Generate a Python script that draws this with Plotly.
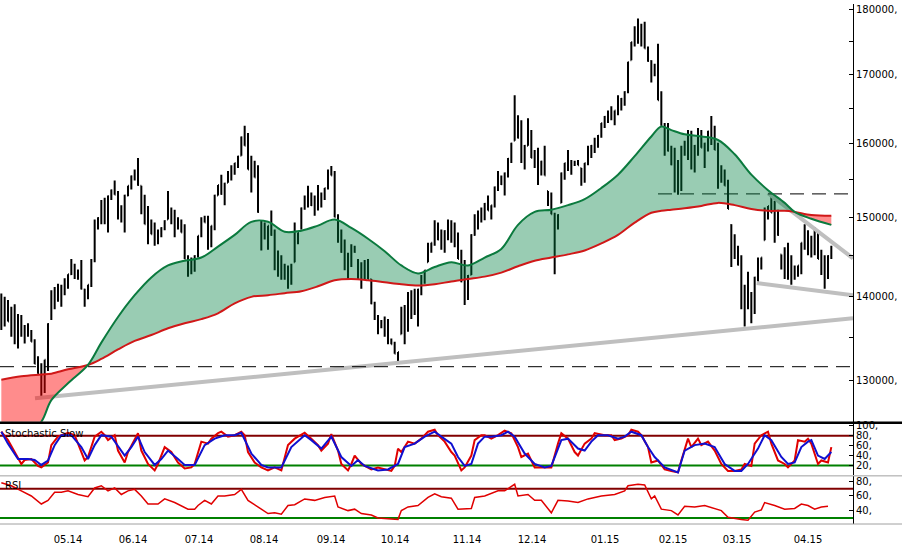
import plotly.graph_objects as go
import numpy as np

# ---------------- price data (thousands of points), one bar per trading day ----------------
open_k = [139.5, 138.1, 138.2, 136.9, 136.6, 135.8, 136.4, 135.4, 135.9, 135.2, 134.5, 131.9, 130.8, 130.5, 132.4, 137.2, 139.8, 140.4, 140.0, 141.2, 141.8, 142.7, 143.0, 142.7, 142.6, 140.8, 140.5, 141.4, 144.5, 149.2, 149.9, 150.8, 150.4, 152.8, 153.6, 153.0, 150.5, 150.5, 152.9, 154.2, 155.5, 156.1, 154.2, 151.0, 149.1,
          148.7, 147.8, 147.4, 148.0, 148.6, 149.7, 150.2, 149.2, 149.2, 148.9, 148.0, 144.6, 143.8, 144.0, 145.0, 147.6, 149.8, 149.3, 147.5, 148.9, 152.9, 154.3, 153.1, 154.6, 156.0, 156.5, 157.3, 158.3, 160.9, 159.7, 156.4, 156.4, 155.3, 149.5, 148.2, 147.4, 148.9, 147.7, 144.0, 143.5, 143.0, 142.4, 142.7, 144.2, 147.2,
          148.5, 151.2, 152.7, 152.4, 151.6, 152.6, 152.3, 153.1, 153.9, 156.2, 155.6, 150.0, 146.9, 145.5, 143.8, 145.0, 145.9, 144.5, 142.5, 143.3, 143.3, 142.1, 139.1, 137.2, 136.6, 136.3, 135.7, 134.5, 134.2, 133.1, 135.4, 136.5, 138.1, 139.0, 139.3, 138.6, 140.8, 142.4, 144.2, 146.1, 146.7, 148.2, 147.1, 146.9, 148.2,
          148.2, 147.7, 146.3, 144.6, 141.8, 141.1, 142.6, 147.7, 149.6, 150.3, 150.7, 151.8, 150.9, 151.6, 154.0, 154.9, 154.4, 155.9, 157.9, 160.4, 162.4, 160.8, 158.1, 159.7, 159.9, 158.0, 156.9, 156.6, 157.5, 153.5, 151.8, 150.4, 149.4, 151.9, 155.9, 157.3, 156.7, 157.2, 157.4, 156.6, 156.0, 157.3, 158.9, 159.7, 160.3,
          161.1, 162.9, 163.8, 164.3, 163.7, 164.7, 165.6, 166.4, 167.4, 172.1, 174.9, 176.5, 175.9, 175.9, 173.9, 172.0, 170.6, 170.4, 166.2, 162.5, 160.9, 159.0, 157.1, 155.4, 156.6, 159.3, 159.8, 159.1, 157.9, 159.7, 160.6, 159.4, 160.0, 161.7, 160.8, 159.1, 155.8, 155.3, 154.2, 149.0, 146.2, 145.1, 143.9, 138.9, 140.7,
          138.6, 140.1, 142.3, 144.1, 147.0, 150.6, 151.5, 150.6, 149.3, 145.2, 144.1, 144.4, 143.2, 142.9, 143.1, 143.8, 146.7, 146.7, 146.2, 146.9, 146.3, 144.6, 143.0, 143.6, 145.0]
high_k = [140.3, 139.9, 139.5, 138.7, 139.0, 137.8, 137.7, 136.5, 136.7, 135.9, 134.8, 132.8, 132.0, 132.4, 136.7, 140.7, 141.1, 141.5, 141.4, 142.2, 142.7, 144.6, 144.0, 143.3, 144.5, 140.9, 141.4, 144.6, 149.7, 150.0, 152.3, 152.6, 152.9, 153.7, 154.9, 153.5, 151.6, 153.0, 154.2, 155.6, 156.4, 158.0, 154.2, 153.0, 151.5,
          149.7, 149.3, 148.4, 148.7, 149.6, 153.5, 151.3, 151.0, 150.0, 149.7, 149.1, 145.1, 144.8, 145.1, 147.6, 150.0, 150.2, 150.2, 148.9, 153.0, 154.3, 155.7, 154.6, 156.2, 157.0, 157.3, 158.3, 161.0, 162.5, 161.5, 158.3, 157.6, 157.0, 149.6, 149.3, 148.9, 150.9, 148.4, 145.7, 145.1, 144.0, 143.8, 144.0, 149.3, 148.0,
          151.3, 152.9, 154.2, 153.3, 152.9, 154.3, 153.3, 153.9, 156.4, 156.9, 156.2, 150.4, 148.4, 147.1, 145.4, 146.5, 146.3, 144.6, 144.2, 144.5, 144.6, 142.1, 139.3, 137.7, 137.1, 137.5, 137.2, 134.9, 134.5, 133.3, 138.7, 138.9, 140.5, 140.7, 140.9, 140.9, 142.6, 143.2, 146.7, 146.7, 149.6, 149.3, 148.4, 148.3, 149.7,
          149.6, 149.3, 148.0, 145.8, 144.5, 142.6, 147.8, 150.4, 150.9, 151.3, 151.9, 152.9, 151.6, 154.1, 156.2, 155.6, 156.0, 158.0, 160.1, 166.9, 164.0, 163.3, 159.8, 163.6, 161.9, 159.1, 159.4, 157.6, 159.7, 153.5, 153.3, 150.6, 150.4, 156.0, 157.3, 159.1, 157.7, 157.6, 157.7, 156.6, 157.3, 159.7, 159.8, 160.8, 161.2,
          162.9, 163.9, 164.7, 165.3, 164.7, 166.9, 166.5, 167.5, 171.9, 174.9, 177.3, 178.5, 177.7, 178.0, 174.2, 172.1, 171.6, 174.6, 167.5, 162.9, 162.9, 159.7, 159.4, 157.7, 159.7, 160.4, 161.9, 161.8, 159.8, 162.2, 161.9, 160.1, 161.8, 163.9, 162.5, 160.1, 157.0, 156.4, 155.0, 149.1, 147.8, 146.3, 145.1, 141.4, 143.0,
          140.5, 142.4, 144.8, 144.8, 151.3, 151.5, 153.0, 152.2, 151.0, 145.2, 146.1, 146.7, 145.1, 143.8, 143.8, 146.7, 149.1, 148.3, 147.6, 148.7, 148.0, 145.8, 145.1, 145.1, 146.3]
low_k = [135.9, 136.3, 136.9, 135.1, 134.2, 133.7, 135.1, 134.3, 135.1, 134.5, 131.9, 130.8, 128.0, 128.6, 131.1, 137.1, 138.4, 139.3, 138.7, 140.1, 140.9, 142.6, 142.1, 142.0, 140.8, 138.7, 139.6, 141.1, 144.2, 148.4, 149.1, 149.1, 148.0, 152.3, 153.0, 149.7, 149.3, 148.0, 152.8, 153.7, 154.9, 154.2, 150.4, 149.1, 146.5,
         147.8, 146.3, 146.5, 147.4, 148.3, 149.7, 149.1, 147.4, 148.4, 148.0, 144.6, 142.4, 142.7, 143.0, 144.8, 147.4, 149.3, 145.8, 146.1, 148.3, 152.9, 153.0, 151.6, 154.6, 154.9, 155.7, 156.6, 158.3, 159.7, 156.4, 153.3, 155.3, 150.6, 145.7, 147.1, 145.8, 147.6, 143.2, 142.4, 142.0, 142.0, 140.9, 141.4, 144.2, 146.5,
         148.4, 151.0, 151.3, 151.5, 150.2, 150.9, 151.3, 152.3, 153.7, 155.6, 150.0, 146.7, 145.4, 143.2, 142.1, 143.6, 145.4, 142.1, 140.9, 142.1, 142.1, 139.0, 137.1, 135.4, 136.1, 135.1, 134.2, 134.2, 133.1, 132.0, 135.4, 134.2, 135.7, 137.2, 137.7, 136.3, 140.1, 141.5, 144.2, 145.4, 146.3, 147.0, 145.8, 145.4, 147.0,
         146.7, 146.1, 144.6, 141.7, 138.9, 139.5, 142.6, 147.6, 148.4, 149.3, 149.6, 150.9, 149.7, 151.3, 153.5, 154.3, 152.9, 155.3, 157.3, 160.4, 160.7, 157.3, 156.4, 159.7, 158.0, 156.6, 154.3, 155.6, 155.6, 151.5, 150.4, 142.7, 148.4, 151.9, 155.0, 156.2, 155.7, 156.9, 157.0, 154.2, 154.6, 157.0, 158.0, 158.7, 159.4,
         160.8, 162.2, 162.9, 163.3, 162.6, 164.0, 164.7, 165.4, 167.2, 172.1, 174.2, 174.6, 174.2, 173.9, 171.9, 168.8, 169.7, 166.2, 162.5, 158.3, 158.9, 157.0, 153.3, 153.0, 153.5, 158.3, 157.7, 156.4, 156.0, 158.3, 159.4, 156.6, 158.9, 159.8, 159.1, 153.8, 154.6, 154.2, 151.1, 143.6, 144.6, 143.8, 138.4, 136.3, 138.4,
         136.7, 137.8, 141.7, 143.3, 147.0, 149.7, 150.6, 146.7, 147.6, 143.3, 142.1, 142.0, 141.4, 142.0, 142.4, 142.7, 145.8, 145.1, 144.8, 145.1, 144.6, 142.6, 140.9, 142.1, 144.6]
close_k = [138.1, 138.2, 136.9, 136.6, 135.8, 136.4, 135.4, 135.9, 135.2, 134.5, 131.9, 130.8, 130.5, 132.4, 136.6, 139.8, 140.4, 140.0, 141.2, 141.8, 142.7, 143.0, 142.7, 142.6, 140.9, 140.5, 141.4, 144.5, 149.2, 149.9, 150.8, 150.4, 152.8, 153.6, 153.0, 150.5, 150.5, 152.9, 154.2, 155.5, 156.1, 154.3, 151.0, 149.1, 148.7,
           147.8, 147.4, 148.0, 148.6, 149.5, 150.2, 149.2, 149.2, 148.9, 148.0, 144.6, 143.8, 144.0, 145.0, 147.6, 149.8, 149.3, 147.5, 148.9, 152.9, 154.3, 153.1, 154.5, 156.0, 156.5, 157.3, 158.2, 160.9, 159.7, 156.4, 156.4, 155.3, 150.7, 148.2, 147.4, 148.9, 147.7, 144.0, 143.5, 143.0, 142.4, 142.7, 143.9, 147.2, 148.0,
           151.2, 152.7, 152.4, 151.6, 152.6, 152.3, 153.1, 153.9, 156.2, 155.6, 150.0, 146.9, 145.5, 143.8, 145.0, 145.9, 145.5, 142.5, 143.3, 143.3, 142.1, 139.1, 137.2, 136.6, 136.3, 135.7, 134.5, 134.2, 133.1, 133.3, 136.5, 138.1, 139.0, 139.3, 138.6, 140.8, 142.4, 143.2, 146.1, 146.7, 148.2, 147.1, 146.9, 148.2, 148.2,
           147.7, 146.3, 144.6, 141.8, 141.1, 142.5, 147.7, 149.6, 150.3, 150.7, 151.8, 150.9, 151.6, 154.0, 154.9, 154.4, 155.9, 157.9, 160.0, 162.4, 160.8, 158.1, 159.7, 159.9, 158.0, 156.9, 156.6, 157.5, 155.6, 151.8, 150.4, 149.4, 150.3, 155.9, 157.3, 156.7, 157.2, 157.4, 157.0, 156.0, 157.3, 158.9, 159.7, 160.3, 161.1,
           162.9, 163.8, 164.3, 163.7, 164.7, 165.6, 166.4, 167.4, 171.8, 174.9, 176.5, 175.9, 175.9, 173.9, 172.0, 170.6, 170.4, 166.2, 162.5, 160.9, 159.0, 157.1, 155.4, 156.6, 159.3, 159.8, 159.1, 157.9, 159.7, 160.6, 159.4, 160.0, 161.7, 160.8, 159.1, 155.8, 155.3, 154.2, 151.1, 146.2, 145.1, 143.9, 138.9, 140.7, 138.6,
           140.1, 142.3, 144.1, 144.8, 150.6, 151.5, 150.6, 149.3, 147.7, 144.1, 144.4, 143.2, 142.9, 143.1, 143.8, 146.7, 146.7, 146.2, 146.9, 146.3, 144.6, 143.0, 143.6, 145.0, 146.0]

n_bars = len(close_k)
assert len(open_k) == len(high_k) == len(low_k) == n_bars
bar_idx = list(range(n_bars))

# month boundaries (bar index) and labels
month_pos = [20.0, 39.5, 59.3, 78.8, 98.9, 118.1, 139.7, 159.2, 181.1, 201.5, 220.7, 242.0]
month_labels = ["05.14", "06.14", "07.14", "08.14", "09.14", "10.14",
                "11.14", "12.14", "01.15", "02.15", "03.15", "04.15"]

# moving averages (thousands), sampled at bar indexes
ma_idx = [0, 6, 12, 15, 20, 26, 30, 35, 40, 45, 50, 55, 60, 65, 70, 75, 80, 85, 90, 95, 100, 105, 110, 115, 120,
          125, 130, 135, 140, 145, 150, 155, 160, 165, 170, 175, 180, 185, 190, 195, 198, 201, 205, 210, 215, 220,
          225, 230, 235, 238, 243, 249]
ma_fast_k = [121.0, 123.3, 125.4, 127.8, 129.7, 131.8, 134.4, 137.45, 140.1, 142.3, 143.8, 144.4, 144.8, 146.2,
             147.7, 149.4, 149.4, 148.1, 148.25, 148.9, 149.7, 148.6, 147.2, 145.6, 143.8, 142.8, 143.6, 144.2,
             143.8, 144.8, 145.9, 149.0, 150.7, 151.0, 151.6, 152.4, 153.9, 155.7, 158.25, 161.0, 162.4, 161.9,
             161.3, 161.0, 160.5, 158.5, 155.7, 153.6, 151.9, 150.7, 149.8, 149.0]
ma_slow_k = [130.1, 130.5, 130.7, 130.8, 131.3, 131.8, 132.5, 133.6, 134.6, 135.3, 136.1, 136.7, 137.2, 137.9,
             139.1, 139.9, 140.1, 140.35, 140.6, 141.2, 141.95, 142.1, 141.95, 141.7, 141.45, 141.3, 141.45, 141.8,
             142.1, 142.4, 142.9, 143.7, 144.4, 144.8, 145.2, 145.7, 146.6, 147.7, 149.3, 150.6, 150.85, 151.0,
             151.2, 151.5, 151.9, 151.6, 151.1, 150.85, 150.85, 150.7, 150.3, 150.2]

# horizontal support/resistance levels (thousands) and their starting bar
level_k = [131.6, 153.1]
level_start = [-0.4, 197.0]

# trend lines: (x0, p0, x1, p1) in bar index / thousands
trend_x0 = [10.1, 226.6, 230.0]
trend_p0 = [128.0, 141.6, 153.2]
trend_x1 = [255.5, 255.5, 255.5]
trend_p1 = [137.3, 140.1, 144.7]

# Stochastic slow %K and %D
stk_x = [0, 2, 4, 6, 7, 9, 11, 12, 14, 15, 17, 19, 20, 22, 23, 25, 26, 28, 30, 31, 32, 34, 35, 37, 38, 40, 41, 42, 44,
         46, 47, 49, 51, 53, 55, 57, 58, 60, 62, 63, 65, 66, 68, 70, 72, 73, 74, 76, 78, 80, 82, 84, 86, 88, 91, 93,
         95, 96, 98, 99, 101, 102, 104, 105, 106, 108, 109, 111, 113, 115, 117, 118, 119, 120, 122, 124, 126, 128,
         130, 131, 133, 135,
         136, 138, 139, 141, 142, 144, 145, 147, 149, 151, 153, 155, 156, 158, 160, 162, 164, 165, 167, 168, 170,
         172, 173, 175, 177, 178, 181, 183, 184, 186, 188, 189, 191, 192, 194, 195, 197, 199, 201, 203, 204, 206,
         207, 209, 210, 212, 214, 216, 218, 220, 222, 223, 225, 226, 228, 230, 231, 233, 235, 236, 238, 239, 241,
         242, 243, 245, 246, 248, 249]
stk_k = [88, 71, 47, 23, 31, 33, 19, 16, 26, 61, 78, 83, 86, 81, 64, 30, 37, 78, 88, 81, 71, 81, 50, 26, 47, 74, 85,
         50, 23, 10, 23, 57, 47, 26, 14, 16, 23, 68, 64, 74, 85, 88, 78, 81, 88, 81, 47, 26, 16, 10, 16, 10, 61, 74,
         86, 74, 61, 50, 64, 83, 50, 23, 10, 23, 40, 23, 19, 12, 16, 12, 9, 19, 54, 47, 68, 64, 74, 88, 92, 81, 68, 47,
         40, 10, 16, 40, 71, 81, 81, 74, 81, 90, 85, 57, 37, 44, 16, 16, 16, 16, 64, 85, 74, 47, 40, 64, 74, 85, 81,
         81, 71, 74, 81, 92, 88, 81, 57, 26, 30, 12, 9, 6, 30, 74, 57, 74, 61, 68, 50, 23, 9, 9, 12, 23, 19, 64, 81,
         88, 64, 30, 23, 16, 30, 71, 68, 74, 64, 23, 30, 26, 57]
std_x = [0, 2, 5, 8, 10, 12, 14, 16, 18, 21, 24, 26, 28, 30, 33, 37, 39, 41, 43, 46, 48, 50, 53, 55, 58, 61, 64, 67,
         70, 72, 75, 78, 80, 84, 87, 91, 93, 96, 99, 102, 105, 107, 109, 113, 116, 119, 121, 124, 127, 130, 132, 135,
         137, 139, 141, 143, 145, 147, 150, 152, 154, 157, 160, 163, 165, 168, 170, 173, 175, 177, 179, 182, 185,
         187, 189, 192, 194, 196, 199, 202, 203, 205, 208, 211, 214, 217, 220, 222, 224, 227, 229, 231, 234, 236,
         238, 240, 242, 243, 245, 247, 249]
std_d = [88, 64, 33, 33, 31, 21, 30, 61, 81, 81, 57, 33, 61, 81, 78, 40, 57, 78, 47, 21, 33, 50, 33, 21, 21, 61, 74,
         81, 81, 86, 44, 21, 16, 16, 57, 81, 71, 54, 78, 37, 19, 31, 19, 10, 12, 23, 57, 64, 78, 88, 78, 64,
         37, 19, 23, 64, 78, 78, 81, 88, 78, 44, 23, 16, 19, 71, 74, 54, 50, 68, 81, 81, 74, 78, 88, 81, 57, 37,
         16, 9, 6, 50, 61, 64, 57, 23, 9, 9, 23, 54, 81, 71, 37, 23, 26, 57, 68, 71, 40, 33, 47]

# RSI
rsi_x = [0, 3, 6, 9, 12, 14, 16, 18, 20, 23, 26, 28, 30, 32, 34, 36, 38, 40, 42, 44, 47, 49, 52, 56, 58, 59, 61, 63,
         65, 67, 70, 72, 74, 77, 80, 82, 84, 86, 88, 91, 94, 97, 100, 101, 104, 106, 108, 111, 113, 116, 119, 120,
         122, 125, 128, 130, 132, 135, 137, 141, 142, 145, 147, 149, 151, 154, 155, 158, 160, 162, 165, 167, 170,
         173, 176, 180, 184, 187, 188, 191, 193, 195, 196, 198, 201, 203, 205, 208, 211, 214, 216, 218, 220, 222,
         224, 226, 228, 229, 232, 235, 238, 240, 242, 244, 246, 248]
rsi_v = [78, 74, 67, 60, 49, 54, 65, 65, 67, 62, 59, 71, 74, 67, 71, 62, 67, 69, 60, 49, 49, 56, 51, 42, 42, 47, 54,
         49, 60, 60, 62, 69, 54, 45, 36, 37, 35, 47, 48, 56, 54, 58, 60, 45, 40, 42, 36, 34, 30, 29, 28, 40, 45, 47,
         58, 63, 59, 57, 42, 43, 58, 60, 63, 67, 67, 76, 60, 62, 54, 54, 37, 54, 53, 51, 56, 60, 62, 67, 74, 76, 75,
         56, 60, 42, 40, 34, 46, 45, 47, 43, 40, 31, 29, 28, 27, 38, 41, 51, 47, 42, 43, 49, 47, 42, 45, 46]

# ---------------- derived (unit conversion) ----------------
K = 1000.0
o = [v * K for v in open_k]; h = [v * K for v in high_k]
l = [v * K for v in low_k]; c = [v * K for v in close_k]
ma_fast = np.array(ma_fast_k) * K
ma_slow = np.array(ma_slow_k) * K

X_LO, X_HI = -0.4, 255.5
FONT = dict(family="DejaVu Sans", size=10, color="#000000")

fig = go.Figure()

# price bars
fig.add_trace(go.Ohlc(x=bar_idx, open=o, high=h, low=l, close=c,
                      increasing=dict(line=dict(color="black", width=2)),
                      decreasing=dict(line=dict(color="black", width=2)),
                      tickwidth=0.25, xaxis="x", yaxis="y", showlegend=False, hoverinfo="skip"))

# trend lines
for x0, p0, x1, p1 in zip(trend_x0, trend_p0, trend_x1, trend_p1):
    fig.add_trace(go.Scatter(x=[x0, x1], y=[p0 * K, p1 * K], mode="lines",
                             line=dict(color="#bfbfbf", width=4), xaxis="x", yaxis="y",
                             showlegend=False, hoverinfo="skip"))

# dashed levels
for lv, xs in zip(level_k, level_start):
    fig.add_trace(go.Scatter(x=[xs, X_HI], y=[lv * K, lv * K], mode="lines",
                             line=dict(color="black", width=1, dash="14px,8px"), xaxis="x", yaxis="y",
                             showlegend=False, hoverinfo="skip"))

# MA band fills
upper = np.maximum(ma_fast, ma_slow)
lower = np.minimum(ma_fast, ma_slow)
fig.add_trace(go.Scatter(x=ma_idx, y=ma_slow, mode="lines", line=dict(width=0, color="rgba(0,0,0,0)"),
                         xaxis="x", yaxis="y", showlegend=False, hoverinfo="skip"))
fig.add_trace(go.Scatter(x=ma_idx, y=upper, mode="lines", line=dict(width=0, color="rgba(0,0,0,0)"),
                         fill="tonexty", fillcolor="rgba(0,128,64,0.40)",
                         xaxis="x", yaxis="y", showlegend=False, hoverinfo="skip"))
fig.add_trace(go.Scatter(x=ma_idx, y=ma_slow, mode="lines", line=dict(width=0, color="rgba(0,0,0,0)"),
                         xaxis="x", yaxis="y", showlegend=False, hoverinfo="skip"))
fig.add_trace(go.Scatter(x=ma_idx, y=lower, mode="lines", line=dict(width=0, color="rgba(0,0,0,0)"),
                         fill="tonexty", fillcolor="rgba(255,0,0,0.45)",
                         xaxis="x", yaxis="y", showlegend=False, hoverinfo="skip"))
# MA lines
fig.add_trace(go.Scatter(x=ma_idx, y=ma_slow, mode="lines", line=dict(color="#d01818", width=2),
                         line_shape="spline", xaxis="x", yaxis="y", showlegend=False, hoverinfo="skip"))
fig.add_trace(go.Scatter(x=ma_idx, y=ma_fast, mode="lines", line=dict(color="#0b7a3e", width=2),
                         line_shape="spline", xaxis="x", yaxis="y", showlegend=False, hoverinfo="skip"))

# Stochastic panel
fig.add_trace(go.Scatter(x=[X_LO, X_HI], y=[80, 80], mode="lines", line=dict(color="#800000", width=2),
                         xaxis="x", yaxis="y2", showlegend=False, hoverinfo="skip"))
fig.add_trace(go.Scatter(x=[X_LO, X_HI], y=[20, 20], mode="lines", line=dict(color="#008000", width=2),
                         xaxis="x", yaxis="y2", showlegend=False, hoverinfo="skip"))
fig.add_trace(go.Scatter(x=stk_x, y=stk_k, mode="lines", line=dict(color="#e00000", width=2),
                         xaxis="x", yaxis="y2", showlegend=False, hoverinfo="skip"))
fig.add_trace(go.Scatter(x=std_x, y=std_d, mode="lines", line=dict(color="#1010d0", width=2),
                         xaxis="x", yaxis="y2", showlegend=False, hoverinfo="skip"))

# RSI panel
fig.add_trace(go.Scatter(x=[X_LO, X_HI], y=[70, 70], mode="lines", line=dict(color="#800000", width=2),
                         xaxis="x", yaxis="y3", showlegend=False, hoverinfo="skip"))
fig.add_trace(go.Scatter(x=[X_LO, X_HI], y=[30, 30], mode="lines", line=dict(color="#008000", width=2),
                         xaxis="x", yaxis="y3", showlegend=False, hoverinfo="skip"))
fig.add_trace(go.Scatter(x=rsi_x, y=rsi_v, mode="lines", line=dict(color="#e00000", width=1.5),
                         xaxis="x", yaxis="y3", showlegend=False, hoverinfo="skip"))

main_ticks = list(range(125000, 180001, 5000))
main_text = [f"{v}," if v % 10000 == 0 else "" for v in main_ticks]

yax_common = dict(side="right", anchor="x", showline=True, linecolor="black", linewidth=1,
                  ticks="inside", ticklen=4, tickcolor="black", showgrid=False, zeroline=False,
                  tickfont=FONT, fixedrange=True)

W, H = 902, 546
ML, MR, MT, MB = 0, 49, 0, 22
ph = H - MT - MB
def py(ypix):
    return (H - MB - ypix) / ph

fig.update_layout(
    width=W, height=H,
    margin=dict(l=ML, r=MR, t=MT, b=MB, pad=0),
    paper_bgcolor="white", plot_bgcolor="white",
    showlegend=False,
    xaxis=dict(range=[X_LO, X_HI], anchor="y3", tickvals=month_pos, ticktext=month_labels,
               ticks="outside", ticklen=6, tickcolor="rgba(0,0,0,0)", showline=False, showgrid=False,
               zeroline=False, tickfont=FONT, rangeslider=dict(visible=False), fixedrange=True),
    yaxis=dict(type="log", domain=[py(421), 1.0], range=[5.0983, 5.2572],
               tickvals=main_ticks, ticktext=main_text, **yax_common),
    yaxis2=dict(domain=[py(475), py(423)], range=[0, 104], tickvals=[20, 40, 60, 80, 100],
                ticktext=["20,", "40,", "60,", "80,", "100,"], **yax_common),
    yaxis3=dict(domain=[0.0, py(476)], range=[21.7, 86.8], tickvals=[40, 60, 80],
                ticktext=["40,", "60,", "80,"], **yax_common),
    shapes=[
        dict(type="line", xref="paper", yref="paper", x0=0, x1=W / 853.0, y0=py(422), y1=py(422),
             line=dict(color="black", width=2.5), layer="above"),
        dict(type="line", xref="paper", yref="paper", x0=0, x1=W / 853.0, y0=py(475.5), y1=py(475.5),
             line=dict(color="#a0a0a0", width=1), layer="above"),
        dict(type="line", xref="paper", yref="paper", x0=0, x1=W / 853.0, y0=py(524), y1=py(524),
             line=dict(color="#a0a0a0", width=1), layer="above"),
    ],
    annotations=[
        dict(text="Stochastic Slow", xref="paper", yref="paper", x=3 / 853, y=py(433),
             xanchor="left", yanchor="middle", showarrow=False, font=FONT),
        dict(text="RSI", xref="paper", yref="paper", x=3 / 853, y=py(485),
             xanchor="left", yanchor="middle", showarrow=False, font=FONT),
    ],
)

fig.write_html("out.html")
